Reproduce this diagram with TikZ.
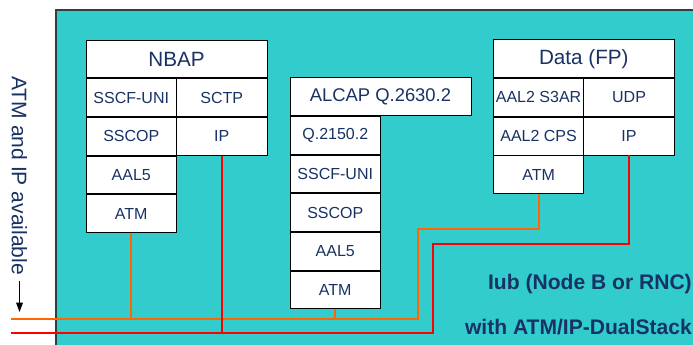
\documentclass[tikz,border=0pt]{standalone}
\usepackage{fontspec}
\setmainfont{Liberation Sans}
\usetikzlibrary{arrows.meta, positioning}
\definecolor{iubteal}{RGB}{51,204,204}
\definecolor{iubnavy}{RGB}{25,50,100}
\definecolor{atmorange}{RGB}{255,102,0}
\definecolor{ipred}{RGB}{255,0,0}
\definecolor{framegray}{RGB}{45,65,65}

\tikzset{
  cell/.style={draw=black, line width=0.7pt, fill=white, text=iubnavy, inner sep=0pt,
    minimum width=67.9pt, minimum height=28.3pt, font=\fontsize{12}{14}\selectfont},
  head/.style={cell, minimum width=135.75pt, font=\fontsize{15.5}{18}\selectfont},
  atmline/.style={atmorange, line width=1.4pt},
  ipline/.style={ipred, line width=1.4pt},
  label/.style={text=iubnavy, inner sep=0pt, font=\fontsize{15.8}{18}\selectfont},
}

\begin{document}
\begin{tikzpicture}[x=0.75pt, y=-0.75pt]
    \clip (0,0) rectangle (693,345);
    \fill[white] (0,0) rectangle (693,345);
    % node frame
    \draw[gray!45, line width=2pt, fill=iubteal] (56,10) rectangle (720,370);
    \draw[framegray, line width=0.8pt] (56,10) rectangle (720,370);

    % NBAP stack
    \node[head] (nbap) at (176.5,59) {NBAP};
    \node[cell, below right=0pt of nbap.south west] (nsscf) {SSCF-UNI};
    \node[cell, below=0pt of nsscf] (nsscop) {SSCOP};
    \node[cell, below=0pt of nsscop] (naal) {AAL5};
    \node[cell, below=0pt of naal] (natm) {ATM};
    \node[cell, below left=0pt of nbap.south east] (nsctp) {SCTP};
    \node[cell, below=0pt of nsctp] (nip) {IP};

    % ALCAP stack
    \node[head, font=\fontsize{13.8}{16}\selectfont] (alcap) at (380.5,96.7) {ALCAP Q.2630.2};
    \node[cell, below right=0pt of alcap.south west] (aq) {Q.2150.2};
    \node[cell, below=0pt of aq] (asscf) {SSCF-UNI};
    \node[cell, below=0pt of asscf] (asscop) {SSCOP};
    \node[cell, below=0pt of asscop] (aaal) {AAL5};
    \node[cell, below=0pt of aaal] (aatm) {ATM};

    % Data stack
    \node[head] (data) at (583.8,58.8) {Data (FP)};
    \node[cell, below right=0pt of data.south west] (ds3ar) {AAL2 S3AR};
    \node[cell, below=0pt of ds3ar] (dcps) {AAL2 CPS};
    \node[cell, below=0pt of dcps] (datm) {ATM};
    \node[cell, below left=0pt of data.south east] (dudp) {UDP};
    \node[cell, below=0pt of dudp] (dip) {IP};

    % transport lines
    \coordinate (atmin) at (11,319);
    \coordinate (ipin) at (11,333);
    \draw[atmline] (atmin) -| (418,229) -| (datm.south);
    \draw[atmline] (natm.south) -- (natm.south |- atmin);
    \draw[atmline] (aatm.south) -- (aatm.south |- atmin);
    \draw[ipline] (ipin) -| (433.3,244) -| (dip.south);
    \draw[ipline] (nip.south) -- (nip.south |- ipin);

    % side note
    \node[label, rotate=-90, anchor=base west] (avail) at (12,76) {ATM and IP available};
    \coordinate (availend) at (19,312);
    \draw[-{Triangle[length=7pt,width=5pt]}, line width=0.8pt] ([yshift=-4pt]avail.east) -- (avail.east |- availend);

    \node[label, font=\bfseries\fontsize{15.8}{18}\selectfont, anchor=east] (iub) at (692,284) {Iub (Node B or RNC)};
    \node[label, font=\bfseries\fontsize{15.8}{18}\selectfont, anchor=east] (dual) at (692,327.5) {with ATM/IP-DualStack};
\end{tikzpicture}
\end{document}
